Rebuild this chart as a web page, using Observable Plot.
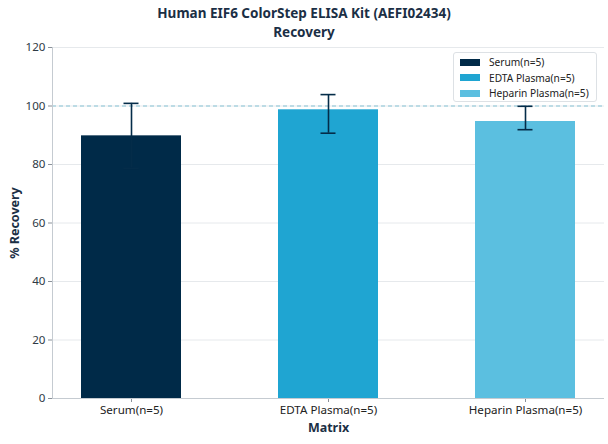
<!DOCTYPE html>
<html><head><meta charset="utf-8">
<script src="https://cdn.jsdelivr.net/npm/d3@7"></script>
<script src="https://cdn.jsdelivr.net/npm/@observablehq/plot@0.6"></script>
<style>
body{margin:0;background:#fff;font-family:"Noto Sans",sans-serif;}
#wrap{position:relative;width:608px;height:444px;}
#title{text-align:center;font-weight:bold;font-size:13.5px;line-height:18.5px;padding-top:4px;height:36px;color:#1b2f45;}
#title div{height:18.5px;white-space:nowrap;}
#title div + div{margin-top:-1px;}
#legend{position:absolute;left:453px;top:52px;width:142px;height:48px;border:1px solid #dde1e5;border-radius:3px;background:#fff;font-size:10.2px;color:#222;}
.row{position:absolute;left:6px;height:14px;line-height:14px;white-space:nowrap;}
.sw{display:inline-block;width:20px;height:7px;vertical-align:middle;margin-right:9px;margin-top:-2px;}
</style></head><body>
<div id="wrap">
<div id="title"><div>Human EIF6 ColorStep ELISA Kit (AEFI02434)</div><div style="margin-top:0">Recovery</div></div>
<div id="chart" style="position:absolute;top:40px;left:0"></div>
<div id="legend"></div>
</div>
<script>
const categories = ["Serum(n=5)", "EDTA Plasma(n=5)", "Heparin Plasma(n=5)"];
const means = [89.8, 98.7, 94.7];
const lower = [78.7, 90.7, 91.9];
const upper = [100.9, 103.9, 99.9];
const colors = ["#002a48", "#1fa5d2", "#5bbfe0"];
const yTicks = [0, 20, 40, 60, 80, 100, 120];

const data = categories.map((c, i) => ({cat: c, mean: means[i], lo: lower[i], hi: upper[i], color: colors[i]}));
const errColor = "#042c49";

const plot = Plot.plot({
  width: 608, height: 404,
  marginTop: 7, marginBottom: 46, marginLeft: 52, marginRight: 4,
  style: {fontFamily: "Noto Sans", fontSize: "11.6px", color: "#333"},
  x: {domain: categories, paddingInner: 0.49, paddingOuter: 0.139, label: null},
  y: {domain: [0, 120], ticks: yTicks, label: null},
  marks: [
    Plot.ruleY(yTicks, {stroke: "#e6e9ec", strokeWidth: 1}),
    Plot.ruleY([100], {stroke: "#86c3d5", strokeDasharray: "4,3", strokeWidth: 1}),
    Plot.barY(data, {x: "cat", y: "mean", fill: "color"}),
    Plot.ruleX(data, {x: "cat", y1: "lo", y2: "hi", stroke: errColor, strokeWidth: 1.6}),
    Plot.tickY(data, {x: "cat", y: "lo", stroke: errColor, strokeWidth: 1.6, insetLeft: 42.5, insetRight: 42.5}),
    Plot.tickY(data, {x: "cat", y: "hi", stroke: errColor, strokeWidth: 1.6, insetLeft: 42.5, insetRight: 42.5}),
    Plot.axisY({ticks: yTicks, tickSize: 4, tickPadding: 3, stroke: "#8a9199", fontSize: 11.6, fill: "#2e3a46", label: null}),
    Plot.axisX({tickSize: 4, tickPadding: 3, stroke: "#8a9199", fontSize: 11.6, fill: "#222", label: null}),
    Plot.ruleY([0], {stroke: "#c5cbd1", strokeWidth: 1}),
    Plot.text(["Matrix"], {frameAnchor: "bottom", dy: 33, fontWeight: "bold", fontSize: 12.5, fill: "#1b2f45"}),
    Plot.text(["% Recovery"], {frameAnchor: "left", textAnchor: "middle", dx: -38, rotate: -90, fontWeight: "bold", fontSize: 12.5, fill: "#1b2f45"})
  ]
});
const svg = d3.select(plot);
svg.append("line").attr("x1", 52.5).attr("x2", 52.5).attr("y1", 7).attr("y2", 358).attr("stroke", "#c5cbd1");
document.getElementById("chart").appendChild(plot);

const lg = document.getElementById("legend");
categories.forEach((c, i) => {
  const r = document.createElement("div");
  r.className = "row";
  r.style.top = (2 + i * 15.5) + "px";
  r.innerHTML = `<span class="sw" style="background:${colors[i]}"></span>${c}`;
  lg.appendChild(r);
});
</script>
</body></html>
